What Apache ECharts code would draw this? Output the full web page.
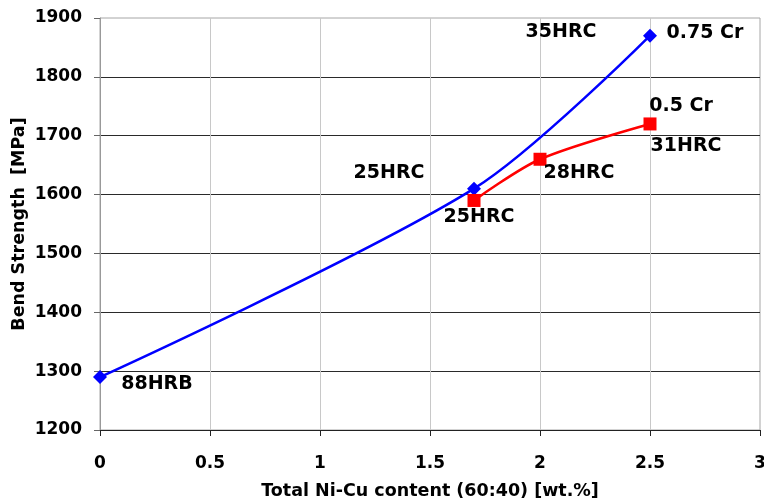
<!DOCTYPE html>
<html>
<head>
<meta charset="utf-8">
<script src="https://cdn.jsdelivr.net/npm/echarts@6/dist/echarts.min.js"></script>
<style>
  html, body { margin: 0; padding: 0; background: #fff; }
  #chart { width: 764px; height: 502px; }
</style>
</head>
<body>
<div id="chart"></div>
<script>
// Bend strength versus total Ni-Cu content for two Cr levels
const niCuBlue = [0, 1.7, 2.5];
const strengthBlue = [1290, 1610, 1870];
const niCuRed = [1.7, 2.0, 2.5];
const strengthRed = [1590, 1660, 1720];

// Hardness / composition notes attached to the points
const blueNotes = ['88HRB', '25HRC', '35HRC'];
const redNotes = ['25HRC', '28HRC', '31HRC'];
const blueCr = '0.75 Cr';
const redCr = '0.5 Cr';

const FONT = '"DejaVu Sans", Verdana, sans-serif';
const noteStyle = { fontFamily: FONT, fontWeight: 'bold', fontSize: 19, color: '#000' };

const blueOffsets = [[57, 7], [-85, -16], [-89, -4]];
const redOffsets = [[5, 17], [39, 14], [36, 22]];

function pts(xs, ys) { return xs.map((x, i) => [x, ys[i]]); }

function noteData(xs, ys, notes, offsets) {
  return xs.map((x, i) => ({
    value: [x, ys[i]],
    label: Object.assign({ show: true, position: 'inside', offset: offsets[i], formatter: notes[i] }, noteStyle)
  }));
}

// invisible carrier points that only hold the note text
const noteSeries = data => ({
  type: 'scatter', symbolSize: 0, silent: true,
  itemStyle: { opacity: 1, color: 'transparent' }, z: 5, data
});

const chart = echarts.init(document.getElementById('chart'));
chart.setOption({
  animation: false,
  grid: { left: 100, right: 4, top: 18, bottom: 72, outerBoundsMode: 'none', containLabel: false,
          show: true, borderColor: '#a6a6a6', borderWidth: 1 },
  xAxis: {
    type: 'value', min: 0, max: 3, interval: 0.5,
    name: 'Total Ni-Cu content (60:40) [wt.%]',
    nameLocation: 'middle', nameGap: 52, nameMoveOverlap: false,
    nameTextStyle: { fontFamily: FONT, fontWeight: 'bold', fontSize: 17.5, color: '#000' },
    axisLine: { lineStyle: { color: '#222', width: 1 } },
    axisTick: { show: true, inside: false, length: 6, lineStyle: { color: '#222' } },
    axisLabel: { fontFamily: FONT, fontWeight: 'bold', fontSize: 17, color: '#000', margin: 25,
                 formatter: v => String(v) },
    splitLine: { show: true, showMinLine: false, showMaxLine: false, lineStyle: { color: '#c8c8c8', width: 1 } }
  },
  yAxis: {
    type: 'value', min: 1200, max: 1900, interval: 100,
    name: 'Bend Strength  [MPa]',
    nameLocation: 'middle', nameGap: 72, nameMoveOverlap: false,
    nameTextStyle: { fontFamily: FONT, fontWeight: 'bold', fontSize: 17.5, color: '#000' },
    axisLine: { show: true, lineStyle: { color: '#999', width: 1 } },
    axisTick: { show: true, inside: false, length: 6, lineStyle: { color: '#666' } },
    axisLabel: { fontFamily: FONT, fontWeight: 'bold', fontSize: 17, color: '#000', margin: 18,
                 formatter: v => String(v) },
    splitLine: { show: true, showMinLine: false, showMaxLine: false, lineStyle: { color: '#2a2a2a', width: 1 } }
  },
  series: [
    {
      type: 'line', smooth: 0.3,
      data: pts(niCuBlue, strengthBlue),
      symbol: 'diamond', symbolSize: 14,
      lineStyle: { color: '#0000ff', width: 2.5 },
      itemStyle: { color: '#0000ff' }
    },
    {
      type: 'line', smooth: 0.3,
      data: pts(niCuRed, strengthRed),
      symbol: 'rect', symbolSize: 13,
      lineStyle: { color: '#ff0000', width: 2.5 },
      itemStyle: { color: '#ff0000' }
    },
    noteSeries(noteData(niCuBlue, strengthBlue, blueNotes, blueOffsets)
      .concat(noteData([niCuBlue[2]], [strengthBlue[2]], [blueCr], [[55, -3]]))),
    noteSeries(noteData(niCuRed, strengthRed, redNotes, redOffsets)
      .concat(noteData([niCuRed[2]], [strengthRed[2]], [redCr], [[31, -18]])))
  ]
});
</script>
</body>
</html>
